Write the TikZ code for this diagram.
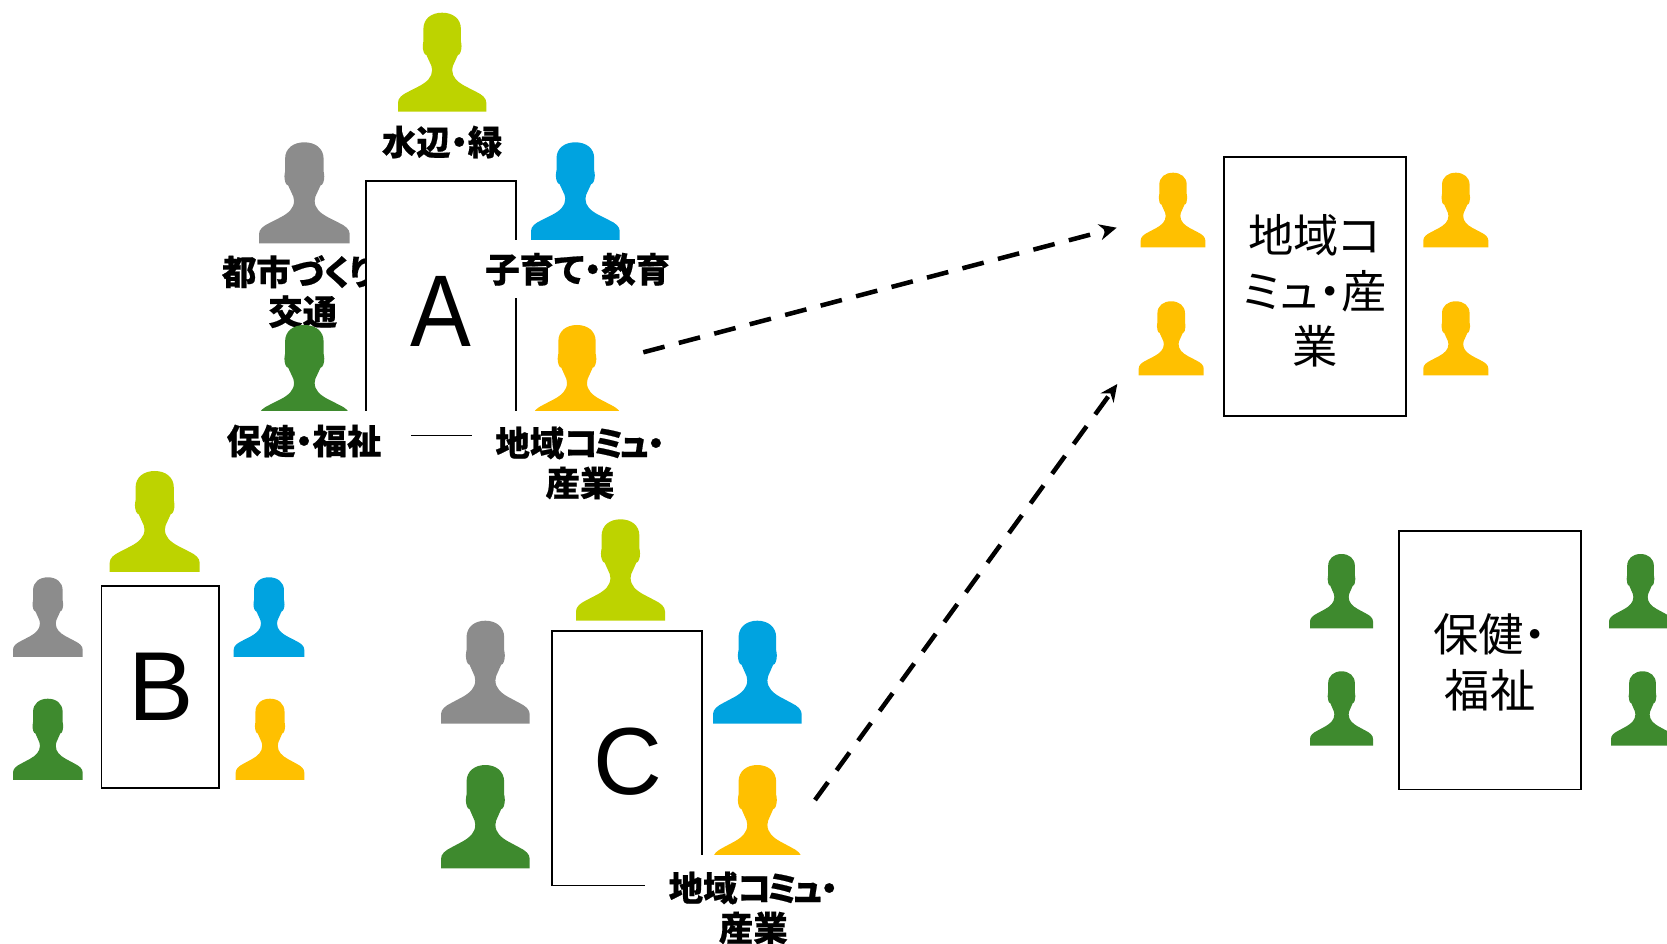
\documentclass[tikz,border=0pt]{standalone}
\usepackage{fontspec}
\usetikzlibrary{arrows.meta}
\setmainfont{Liberation Sans}
\newfontfamily\cjk[RawFeature=+palt,BoldFeatures={FakeBold=0.5}]{Noto Sans CJK JP}
\definecolor{plime}{HTML}{BDD300}
\definecolor{pgray}{HTML}{8C8C8C}
\definecolor{pblue}{HTML}{00A3E0}
\definecolor{pgreen}{HTML}{3E8A2E}
\definecolor{pyellow}{HTML}{FFC000}
\tikzset{
  panel/.style={draw=black,fill=white,line width=1.2pt,inner sep=0pt,outer sep=0pt,anchor=north west},
  bigletter/.style={inner sep=0pt,font=\fontsize{73.5pt}{80pt}\selectfont},
  tag/.style={inner sep=0pt,align=center,font=\cjk\bfseries\fontsize{25.8pt}{30pt}\selectfont},
  paneltext/.style={inner sep=0pt,align=center,font=\cjk\fontsize{34pt}{41.5pt}\selectfont},
  mask/.style={fill=white},
  flow/.style={line width=3.4pt,dash pattern=on 16.5pt off 11pt,-{Stealth[length=13pt,width=12pt]}}
}
\newcommand{\kanarun}{コ\kern-.13emミ\kern-.13emュ\kern-.05em}
% \person{left}{top}{right}{bottom}{colour}
\newcommand{\person}[5]{%
  \pgfmathsetmacro{\pcx}{(#1+#3)/2}%
  \pgfmathsetmacro{\psx}{(#3-#1)/264}%
  \pgfmathsetmacro{\psy}{(#4-#2)/297}%
  \begin{scope}[shift={(\pcx,#2)},xscale=\psx,yscale=\psy]
    \fill[#5] (-132,297) -- (-132,270) .. controls (-132,256) and (-120,246) .. (-101,237)
      -- (-68,220) .. controls (-46,208) and (-30,194) .. (-30,172) -- (-32,160) -- (-47,127)
      .. controls (-54,127) and (-58,112) .. (-58,100) .. controls (-58,92) and (-56,88) .. (-56,85)
      -- (-56,48) .. controls (-56,18) and (-32,0) .. (0,0)
      .. controls (32,0) and (56,18) .. (56,48) -- (56,85)
      .. controls (56,88) and (58,92) .. (58,100) .. controls (58,112) and (54,127) .. (47,127)
      -- (32,160) -- (30,172) .. controls (30,194) and (46,208) .. (68,220)
      -- (101,237) .. controls (120,246) and (132,256) .. (132,270) -- (132,297) -- cycle;
  \end{scope}}
\begin{document}
\begin{tikzpicture}[x=0.75pt,y=-0.75pt]
\useasboundingbox (0,0) rectangle (1667,944);
% group A
\node[tag,anchor=west] (tagcity) at (221.7,271.7) {都市づくり};
\node[tag] (tagtraffic) at (302.7,311.7) {交通};
\node[panel,minimum width=112.5pt,minimum height=190.8pt] (boxa) at (366,181.3) {};
\node[bigletter,yscale=1.04,xscale=.93] (lettera) at (441,311) {A};
\person{398}{12.7}{486.3}{111.7}{plime}
\person{259}{142.3}{349.7}{243.3}{pgray}
\person{531}{142.3}{619.7}{240}{pblue}
\person{259}{325}{349.7}{425}{pgreen}
\person{533}{325}{621}{425}{pyellow}
\fill[mask] (259,410.7) rectangle (411,470);
\fill[mask] (471.7,410.7) rectangle (640,510);
\fill[mask] (480,240) rectangle (690,298);
\node[tag] (tagwater) at (442,142) {水辺・緑};
\node[tag] (tagchild) at (577.7,269.3) {子育て・教育};
\node[tag] (taghealth) at (304,441) {保健・福祉};
\node[tag] (tagcomma) at (580,463) {地域\kanarun・\\産業};
% group B
\node[panel,minimum width=88.05pt,minimum height=151.7pt] (boxb) at (101.3,585.7) {};
\node[bigletter] (letterb) at (161,687) {B};
\person{109.7}{471}{199.7}{572}{plime}
\person{13}{577.3}{82.7}{657}{pgray}
\person{233.7}{577.3}{304.3}{657}{pblue}
\person{13}{698.7}{82.7}{780}{pgreen}
\person{235.7}{698.7}{304.3}{780}{pyellow}
% group C
\node[panel,minimum width=112.3pt,minimum height=191pt] (boxc) at (552,630.7) {};
\node[bigletter,font=\fontsize{71.5pt}{78pt}\selectfont] (letterc) at (627.7,761.2) {C};
\person{576}{519.3}{665}{620.7}{plime}
\person{441}{620.7}{529.7}{723.7}{pgray}
\person{713}{620.7}{801.7}{723.7}{pblue}
\person{441}{765}{529.7}{868.3}{pgreen}
\person{713}{765}{801.7}{868.3}{pyellow}
\fill[mask] (645,855) rectangle (860,944);
\node[tag] (tagcommc) at (753.3,908) {地域\kanarun・\\産業};
% community panel
\node[panel,minimum width=136.7pt,minimum height=194pt] (boxcomm) at (1224,157.3) {};
\node[paneltext] (textcomm) at (1315,291) {地域コ\\ミュ・産\\業};
\person{1140.7}{172.7}{1205.3}{247.3}{pyellow}
\person{1423.3}{172.7}{1488.3}{247.3}{pyellow}
\person{1138.7}{301.3}{1203.7}{375.3}{pyellow}
\person{1423.3}{301.3}{1488.3}{375.3}{pyellow}
% health panel
\node[panel,minimum width=136.7pt,minimum height=194pt] (boxhealth) at (1399,531) {};
\node[paneltext] (texthealth) at (1490,662.5) {保健・\\福祉};
\person{1310}{554}{1373}{628.3}{pgreen}
\person{1609}{554}{1672}{628.3}{pgreen}
\person{1310}{671.3}{1373}{745.7}{pgreen}
\person{1611}{671.3}{1674}{745.7}{pgreen}
% connectors
\coordinate (froma) at (643.3,352.3);
\coordinate (toa) at (1116.7,227.7);
\coordinate (fromc) at (815,800);
\coordinate (toc) at (1117.3,384);
\draw[flow] (froma) -- (toa);
\draw[flow] (fromc) -- (toc);
\end{tikzpicture}
\end{document}
